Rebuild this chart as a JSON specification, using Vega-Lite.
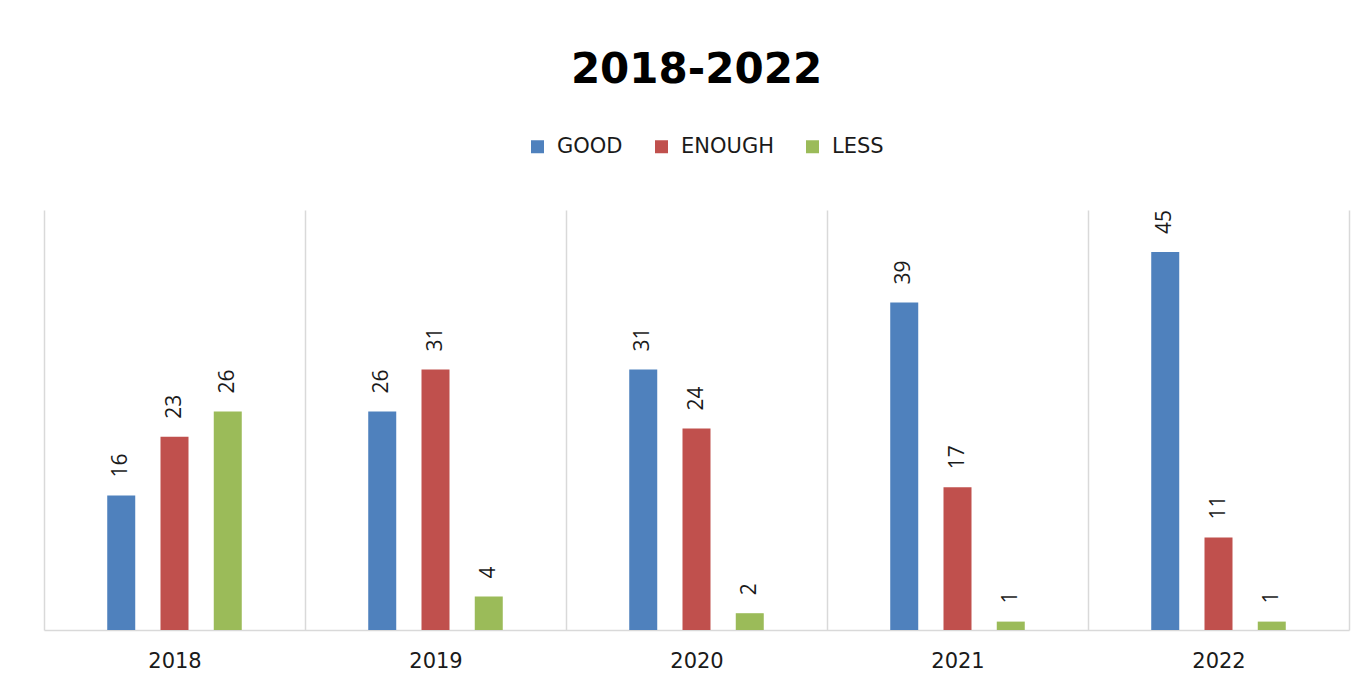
{
  "$schema": "https://vega.github.io/schema/vega-lite/v6.json",
  "width": 1305,
  "height": 420,
  "autosize": {"type": "none"},
  "padding": {"left": 44, "top": 210, "right": 23, "bottom": 63},
  "background": "white",
  "title": {
    "text": "2018-2022",
    "font": "DejaVu Sans",
    "fontSize": 42,
    "fontWeight": "bold",
    "color": "#000000",
    "baseline": "alphabetic",
    "offset": 11,
    "anchor": "middle"
  },
  "data": {
    "values": [
      {"year": "2018", "category": "GOOD", "value": 16},
      {"year": "2018", "category": "ENOUGH", "value": 23},
      {"year": "2018", "category": "LESS", "value": 26},
      {"year": "2019", "category": "GOOD", "value": 26},
      {"year": "2019", "category": "ENOUGH", "value": 31},
      {"year": "2019", "category": "LESS", "value": 4},
      {"year": "2020", "category": "GOOD", "value": 31},
      {"year": "2020", "category": "ENOUGH", "value": 24},
      {"year": "2020", "category": "LESS", "value": 2},
      {"year": "2021", "category": "GOOD", "value": 39},
      {"year": "2021", "category": "ENOUGH", "value": 17},
      {"year": "2021", "category": "LESS", "value": 1},
      {"year": "2022", "category": "GOOD", "value": 45},
      {"year": "2022", "category": "ENOUGH", "value": 11},
      {"year": "2022", "category": "LESS", "value": 1}
    ]
  },
  "encoding": {
    "x": {
      "field": "year",
      "type": "nominal",
      "title": null,
      "scale": {"paddingInner": 0, "paddingOuter": 0},
      "axis": {
        "labelAngle": 0,
        "labelFont": "DejaVu Sans",
        "labelFontSize": 21,
        "labelColor": "#1a1a1a",
        "labelPadding": 20,
        "ticks": false,
        "tickBand": "extent",
        "grid": true,
        "gridColor": "#d9d9d9",
        "gridWidth": 1.5,
        "domainColor": "#d9d9d9",
        "domainWidth": 1.5
      }
    },
    "xOffset": {
      "field": "category",
      "type": "nominal",
      "scale": {"domain": ["GOOD", "ENOUGH", "LESS"], "paddingInner": 0.1, "paddingOuter": 1}
    },
    "y": {
      "field": "value",
      "type": "quantitative",
      "scale": {"domain": [0, 50]},
      "axis": null
    }
  },
  "layer": [
    {
      "mark": {"type": "bar", "width": 28},
      "encoding": {
        "color": {
          "field": "category",
          "type": "nominal",
          "scale": {"domain": ["GOOD", "ENOUGH", "LESS"], "range": ["#4F81BD", "#C0504D", "#9BBB59"]},
          "legend": {
            "title": null,
            "orient": "none",
            "direction": "horizontal",
            "legendX": 483,
            "legendY": -74,
            "symbolType": "square",
            "symbolSize": 169,
            "symbolStrokeWidth": 0,
            "labelFont": "DejaVu Sans",
            "labelFontSize": 21,
            "labelColor": "#1a1a1a",
            "labelOffset": 9,
            "columnPadding": 28,
            "padding": 0
          }
        }
      }
    },
    {
      "mark": {
        "type": "text",
        "angle": 270,
        "align": "left",
        "baseline": "middle",
        "dx": 18,
        "font": "Open Sans",
        "fontSize": 21,
        "color": "#1a1a1a"
      },
      "encoding": {
        "text": {"field": "value", "type": "quantitative"}
      }
    }
  ],
  "config": {
    "view": {"stroke": null}
  }
}
